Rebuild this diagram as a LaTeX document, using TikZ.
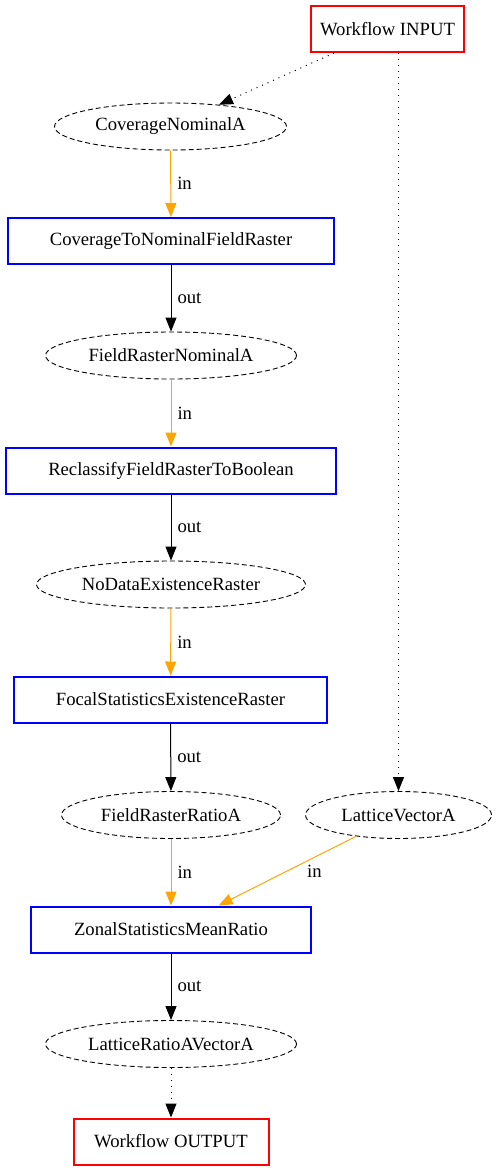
\documentclass[tikz,border=0pt]{standalone}
\usepackage{fontspec}
\setmainfont{Liberation Serif}
\usepackage{xcolor}
\usepackage{tikz}
\usetikzlibrary{arrows.meta,shapes.geometric}
\definecolor{wforange}{RGB}{255,165,0}
\newcommand{\wffont}{\fontsize{18.67pt}{21pt}\selectfont}
\tikzset{
  every node/.append style={font=\wffont},
  iobox/.style={draw=red, line width=2pt, minimum height=46pt, inner sep=0pt,
                fill=white},
  toolbox/.style={draw=blue, line width=2pt, minimum height=46pt, inner sep=0pt,
                  fill=white},
  datanode/.style={draw, ellipse, dash pattern=on 5pt off 3pt, line width=0.9pt,
                   minimum height=47pt, inner sep=0pt},
  inedge/.style={draw=wforange, line width=1pt, -{Triangle[length=14pt,width=11pt]}},
  outedge/.style={draw=black, line width=1pt, -{Triangle[length=14pt,width=11pt]}},
  wfedge/.style={draw=black, line width=1pt, dash pattern=on 1pt off 5pt,
                 -{Triangle[length=14pt,width=11pt]}},
  lbl/.style={right, inner sep=6pt},
}

\begin{document}
\begin{tikzpicture}[x=1pt, y=-1pt]
    \useasboundingbox (0,0) rectangle (498,1171);
    % workflow ends
    \node[iobox, minimum width=153pt] (WfIn) at (387.5,29) {Workflow INPUT};
    \node[iobox, minimum width=195pt] (WfOut) at (171,1141.5) {Workflow OUTPUT};
    % data
    \node[datanode, minimum width=232pt] (CovNomA) at (170.5,126.5) {CoverageNominalA};
    \node[datanode, minimum width=251pt] (FldNomA) at (171,355.5) {FieldRasterNominalA};
    \node[datanode, minimum width=269pt] (NoDataR) at (171,584.5) {NoDataExistenceRaster};
    \node[datanode, minimum width=219pt] (FldRatA) at (171,815) {FieldRasterRatioA};
    \node[datanode, minimum width=186pt] (LatVecA) at (398.5,815) {LatticeVectorA};
    \node[datanode, minimum width=251pt] (LatRatA) at (171,1044) {LatticeRatioAVectorA};
    % tools
    \node[toolbox, minimum width=326pt] (CovToNom) at (171,241) {CoverageToNominalFieldRaster};
    \node[toolbox, minimum width=330pt] (Reclass) at (171,470.5) {ReclassifyFieldRasterToBoolean};
    \node[toolbox, minimum width=313pt] (FocalStat) at (170.5,699.5) {FocalStatisticsExistenceRaster};
    \node[toolbox, minimum width=280pt] (ZonalStat) at (171,929.5) {ZonalStatisticsMeanRatio};
    % connectors
    \draw[wfedge] (WfIn) -- (CovNomA);
    \draw[wfedge] (WfIn.south -| LatVecA.north) -- (LatVecA.north);
    \draw[inedge] (CovNomA) -- node[lbl]{in} (CovToNom);
    \draw[outedge] (CovToNom) -- node[lbl]{out} (FldNomA);
    \draw[inedge] (FldNomA) -- node[lbl]{in} (Reclass);
    \draw[outedge] (Reclass) -- node[lbl]{out} (NoDataR);
    \draw[inedge] (NoDataR) -- node[lbl]{in} (FocalStat);
    \draw[outedge] (FocalStat) -- node[lbl]{out} (FldRatA);
    \draw[inedge] (FldRatA) -- node[lbl]{in} (ZonalStat);
    \draw[inedge] (LatVecA) -- node[pos=0.5, xshift=27pt]{in} (ZonalStat);
    \draw[outedge] (ZonalStat) -- node[lbl]{out} (LatRatA);
    \draw[wfedge] (LatRatA) -- (WfOut);
  \end{tikzpicture}
\end{document}
